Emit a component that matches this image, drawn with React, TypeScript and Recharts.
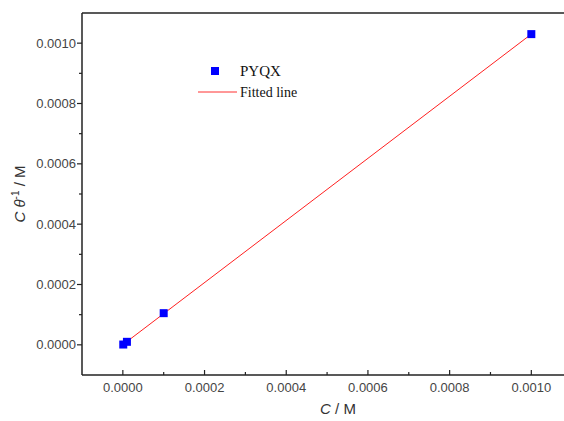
import React from 'react';
import {
  ComposedChart,
  Scatter,
  Line,
  XAxis,
  YAxis,
  ReferenceLine,
} from 'recharts';

// measured points: concentration C (M) vs C/theta (M)
const concentrations = [0.000001, 0.00001, 0.0001, 0.001];
const cOverTheta = [0.000001, 0.00001, 0.000105, 0.00103];

// linear fit endpoints
const fitC = [0.000001, 0.001];
const fitValues = [0.0000015, 0.00103];

const xTicks = [0, 0.0001, 0.0002, 0.0003, 0.0004, 0.0005, 0.0006, 0.0007, 0.0008, 0.0009, 0.001];
const yTicks = [-0.0001, 0, 0.0001, 0.0002, 0.0003, 0.0004, 0.0005, 0.0006, 0.0007, 0.0008, 0.0009, 0.001, 0.0011];

const points = concentrations.map((x, i) => ({ x, y: cOverTheta[i] }));
const fitted = fitC.map((x, i) => ({ x, y: fitValues[i] }));

const tickFont = "'Liberation Sans', sans-serif";
const tickColor = '#454545';

const isMajor = (v: number) => Math.round(v * 10000) % 2 === 0;

const XTick = (props: any) => {
  const { x, y, payload } = props;
  const major = isMajor(payload.value);
  return (
    <g>
      <line x1={x} x2={x} y1={y} y2={y - (major ? 5 : 3)} stroke="#222" strokeWidth={1.2} />
      {major && (
        <text x={x} y={y + 17} textAnchor="middle" fontSize={13} fontFamily={tickFont} fill={tickColor}>
          {payload.value.toFixed(4)}
        </text>
      )}
    </g>
  );
};

const YTick = (props: any) => {
  const { x, y, payload } = props;
  const major = isMajor(payload.value);
  if (payload.value < 0 || payload.value > 0.00105) return null;
  return (
    <g>
      <line x1={x} x2={x - (major ? 5 : 3)} y1={y} y2={y} stroke="#222" strokeWidth={1.2} />
      {major && (
        <text x={x - 6} y={y + 4.5} textAnchor="end" fontSize={13} fontFamily={tickFont} fill={tickColor}>
          {payload.value.toFixed(4)}
        </text>
      )}
    </g>
  );
};

const LegendBox = () => (
  <svg width={160} height={50} style={{ position: 'absolute', left: 195, top: 57 }}>
    <rect x={16} y={10} width={8} height={8} fill="#0000ff" />
    <text x={45} y={19} fontSize={15} fontFamily="'Liberation Serif', serif" fill="#111">PYQX</text>
    <line x1={3} x2={42} y1={35} y2={35} stroke="#ff3030" strokeWidth={1} />
    <text x={45} y={40} fontSize={14} fontFamily="'Liberation Serif', serif" fill="#111">Fitted line</text>
  </svg>
);

export default function App() {
  return (
    <div style={{ position: 'absolute', left: 0, top: 0, width: 564, height: 421, background: '#fff' }}>
      <ComposedChart width={564} height={421} margin={{ top: 13, right: 0, bottom: 0, left: 0 }}>
        <XAxis
          type="number"
          dataKey="x"
          domain={[-0.0001, 0.00108]}
          ticks={xTicks}
          interval={0}
          height={46}
          tickSize={0}
          tickMargin={0}
          tickLine={false}
          tick={<XTick />}
          axisLine={{ stroke: '#222', strokeWidth: 1.5 }}
          allowDataOverflow
        />
        <YAxis
          type="number"
          dataKey="y"
          domain={[-0.0001, 0.0011]}
          ticks={yTicks}
          interval={0}
          width={82}
          tickSize={0}
          tickMargin={0}
          tickLine={false}
          tick={<YTick />}
          axisLine={{ stroke: '#222', strokeWidth: 1.5 }}
          allowDataOverflow
        />
        <ReferenceLine y={0.0011} stroke="#222" strokeWidth={1.5} />
        <Line
          data={fitted}
          dataKey="y"
          stroke="#ff2020"
          strokeWidth={1}
          dot={false}
          isAnimationActive={false}
          name="Fitted line"
        />
        <Scatter
          data={points}
          dataKey="y"
          fill="#0000ff"
          shape="square"
          isAnimationActive={false}
          name="PYQX"
        />
        <text x={25} y={194} transform="rotate(-90 25 194)" textAnchor="middle" fontSize={15} fontFamily={tickFont} fill="#333">
          <tspan fontStyle="italic">C θ</tspan>
          <tspan fontSize={10} dy={-6}>-1</tspan>
          <tspan dy={6}> / M</tspan>
        </text>
        <text x={338} y={414} textAnchor="middle" fontSize={15} fontFamily={tickFont} fill="#333">
          <tspan fontStyle="italic">C</tspan>
          <tspan> / M</tspan>
        </text>
      </ComposedChart>
      <LegendBox />
    </div>
  );
}
